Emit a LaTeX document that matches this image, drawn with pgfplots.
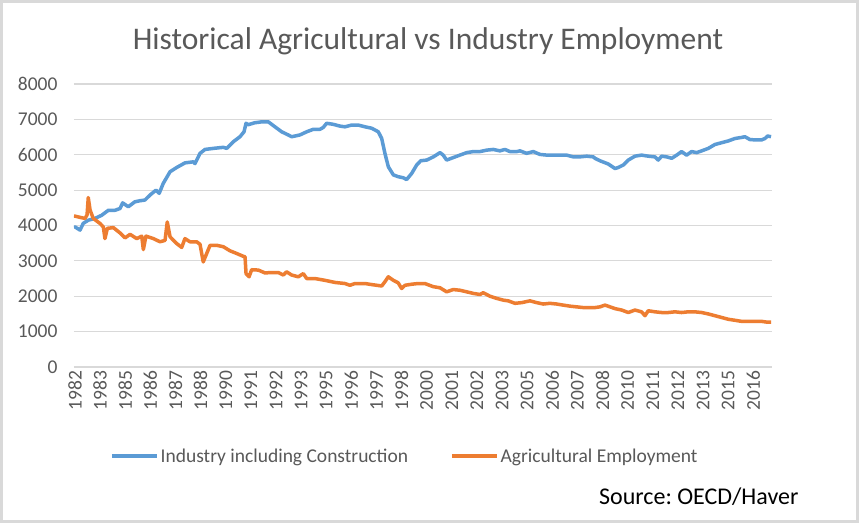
\documentclass[border=0pt]{standalone}
\usepackage{fontspec}
\setmainfont{Carlito}
\usepackage{pgfplots}
\pgfplotsset{compat=1.18}
\definecolor{blueline}{HTML}{5B9BD5}
\definecolor{orangeline}{HTML}{ED7D31}
\definecolor{txt}{HTML}{595959}
\definecolor{gridc}{HTML}{D9D9D9}
\frenchspacing
\begin{document}
\begin{tikzpicture}
\useasboundingbox (0,0) rectangle (859pt,523pt);
\fill[white] (0,0) rectangle (859pt,523pt);
\draw[gridc, line width=3pt] (1.5pt,1.5pt) rectangle (857.5pt,521.5pt);
\begin{axis}[
  at={(74pt,156pt)}, anchor=south west,
  scale only axis, width=698pt, height=283pt,
  xmin=1982.6, xmax=2017.33, ymin=0, ymax=8000,
  ytick={0,1000,...,8000},
  xtick={1982.65,1983.9,1985.15,1986.4,1987.65,1988.9,1990.15,1991.4,1992.65,1993.9,1995.15,1996.4,1997.65,1998.9,2000.15,2001.4,2002.65,2003.9,2005.15,2006.4,2007.65,2008.9,2010.15,2011.4,2012.65,2013.9,2015.15,2016.4},
  xticklabels={1982,1983,1985,1986,1987,1988,1990,1991,1992,1993,1995,1996,1997,1998,2000,2001,2002,2003,2005,2006,2007,2008,2010,2011,2012,2013,2015,2016},
  axis line style={draw=none},
  ymajorgrids, grid style={draw=gridc, line width=1.2pt},
  major tick length=0pt,
  ticklabel style={font=\fontsize{19.5}{20}\selectfont, text=txt},
  /pgf/number format/assume math mode=true,
  /pgf/number format/1000 sep={},
  yticklabel style={xshift=-13pt},
  xticklabel style={rotate=90, anchor=east},
  legend style={at={(0.474,-0.3145)}, anchor=center, draw=none, fill=none,
    legend columns=2, font=\fontsize{19.5}{20}\selectfont, text=txt,
    /tikz/every even column/.append style={column sep=40pt}},
  legend image code/.code={\draw[#1] (0pt,0pt) -- (45pt,0pt);},
  every axis plot/.append style={line width=3.5pt, line join=round},
]
\addplot[blueline] coordinates {
(1982.60,3950) (1982.65,3960) (1982.90,3870) (1983.06,4060) (1983.31,4150) (1983.64,4200) (1983.98,4290) (1984.31,4430) (1984.64,4430) (1984.89,4480) (1985.02,4640) (1985.30,4530) (1985.63,4670) (1985.88,4700) (1986.13,4720) (1986.38,4860) (1986.68,5000) (1986.84,4910) (1987.04,5190) (1987.38,5520) (1987.71,5640) (1988.12,5770) (1988.54,5800) (1988.62,5750) (1988.87,6040) (1989.12,6150) (1989.53,6180) (1990.03,6210) (1990.20,6180) (1990.53,6370) (1990.86,6510) (1991.06,6650) (1991.16,6890) (1991.27,6850) (1991.60,6905) (1991.94,6930) (1992.27,6930) (1992.60,6790) (1992.93,6650) (1993.26,6560) (1993.43,6510) (1993.60,6530) (1993.84,6560) (1994.18,6650) (1994.51,6720) (1994.84,6720) (1995.00,6770) (1995.17,6890) (1995.50,6860) (1995.83,6810) (1996.08,6790) (1996.42,6840) (1996.74,6840) (1997.08,6790) (1997.41,6750) (1997.74,6650) (1997.91,6460) (1998.07,6040) (1998.24,5660) (1998.49,5430) (1998.73,5380) (1998.98,5350) (1999.15,5300) (1999.40,5470) (1999.65,5710) (1999.85,5830) (2000.15,5850) (2000.48,5940) (2000.81,6060) (2000.97,5990) (2001.14,5850) (2001.47,5920) (2001.80,5990) (2002.14,6060) (2002.47,6090) (2002.80,6090) (2003.13,6130) (2003.46,6150) (2003.79,6110) (2004.04,6150) (2004.29,6090) (2004.63,6090) (2004.79,6110) (2005.12,6040) (2005.45,6090) (2005.78,6010) (2006.12,5990) (2006.45,5990) (2006.78,5990) (2007.11,5990) (2007.44,5940) (2007.77,5940) (2008.11,5960) (2008.44,5940) (2008.52,5900) (2008.77,5830) (2009.18,5740) (2009.52,5610) (2009.68,5640) (2009.93,5710) (2010.18,5850) (2010.51,5960) (2010.84,5990) (2011.17,5960) (2011.51,5940) (2011.67,5850) (2011.84,5960) (2012.09,5940) (2012.34,5900) (2012.59,5990) (2012.83,6090) (2013.08,5990) (2013.33,6090) (2013.58,6060) (2013.83,6110) (2014.16,6180) (2014.49,6290) (2014.82,6340) (2015.15,6390) (2015.49,6460) (2015.82,6490) (2015.98,6510) (2016.23,6430) (2016.48,6420) (2016.81,6420) (2016.98,6460) (2017.11,6530) (2017.28,6510)
};
\addlegendentry{Industry including Construction}
\addplot[orangeline] coordinates {
(1982.60,4270) (1982.65,4265) (1982.90,4230) (1983.15,4200) (1983.25,4300) (1983.31,4790) (1983.40,4435) (1983.56,4200) (1983.89,4060) (1984.06,3960) (1984.14,3630) (1984.26,3920) (1984.56,3940) (1984.89,3790) (1985.14,3650) (1985.39,3750) (1985.72,3630) (1985.97,3700) (1986.05,3320) (1986.18,3700) (1986.55,3630) (1986.88,3540) (1987.13,3580) (1987.24,4100) (1987.38,3680) (1987.71,3490) (1987.96,3380) (1988.12,3630) (1988.37,3540) (1988.70,3540) (1988.87,3470) (1989.03,2970) (1989.37,3440) (1989.70,3440) (1990.03,3400) (1990.36,3285) (1990.69,3210) (1991.02,3130) (1991.11,3115) (1991.16,2640) (1991.31,2550) (1991.44,2750) (1991.77,2740) (1992.10,2660) (1992.44,2670) (1992.77,2670) (1993.01,2600) (1993.18,2690) (1993.43,2600) (1993.76,2550) (1994.01,2640) (1994.18,2500) (1994.59,2500) (1995.09,2450) (1995.59,2390) (1996.08,2360) (1996.33,2310) (1996.58,2360) (1997.08,2360) (1997.41,2330) (1997.91,2290) (1998.07,2410) (1998.24,2550) (1998.49,2450) (1998.73,2380) (1998.90,2220) (1999.07,2310) (1999.40,2340) (1999.73,2360) (2000.06,2360) (2000.15,2340) (2000.48,2270) (2000.81,2240) (2001.14,2125) (2001.47,2190) (2001.80,2170) (2002.14,2125) (2002.47,2080) (2002.80,2050) (2002.96,2100) (2003.30,2000) (2003.63,1940) (2003.96,1890) (2004.21,1870) (2004.54,1800) (2004.88,1820) (2005.12,1850) (2005.29,1870) (2005.62,1820) (2005.95,1780) (2006.28,1800) (2006.62,1780) (2006.94,1750) (2007.28,1720) (2007.61,1700) (2007.94,1680) (2008.27,1680) (2008.52,1680) (2008.77,1700) (2009.02,1750) (2009.27,1700) (2009.52,1650) (2009.85,1610) (2010.18,1540) (2010.51,1610) (2010.84,1560) (2011.01,1450) (2011.17,1590) (2011.51,1560) (2011.84,1540) (2012.17,1540) (2012.50,1560) (2012.83,1540) (2013.16,1560) (2013.49,1560) (2013.83,1540) (2014.16,1500) (2014.49,1450) (2014.82,1400) (2015.15,1350) (2015.49,1320) (2015.82,1290) (2016.15,1290) (2016.48,1290) (2016.81,1290) (2017.06,1270) (2017.28,1270)
};
\addlegendentry{Agricultural Employment}
\end{axis}
\node[font=\fontsize{31.5}{33}\selectfont, text=txt] at (428pt,482pt) {Historical Agricultural vs Industry Employment};
\node[anchor=east, font=\fontsize{24}{26}\selectfont, text=black] at (802pt,26pt) {Source: OECD/Haver};
\end{tikzpicture}
\end{document}
